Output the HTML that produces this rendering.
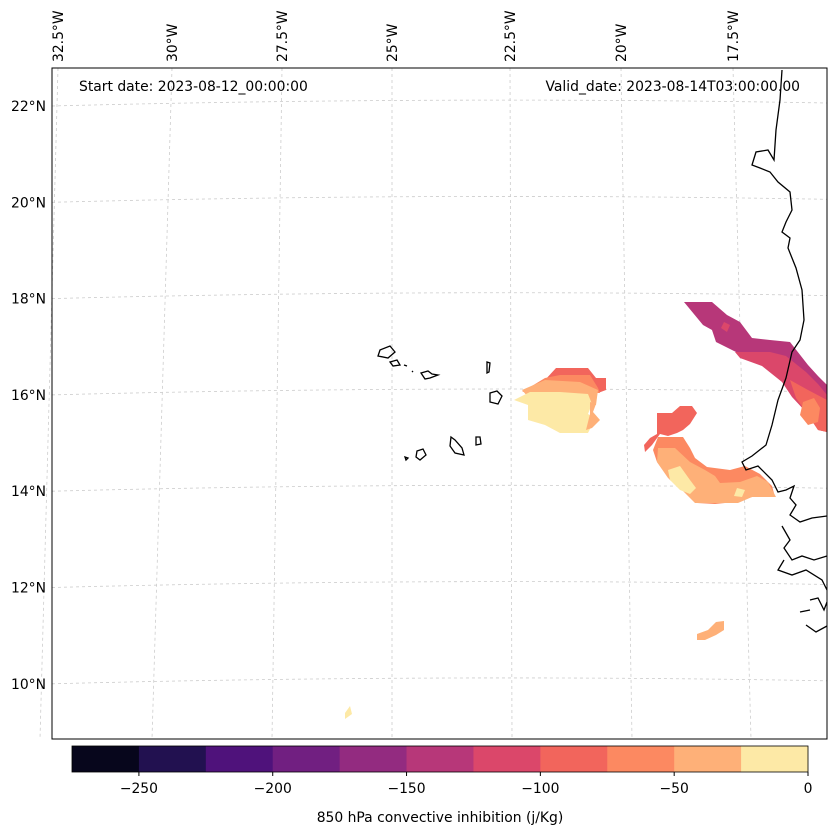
<!DOCTYPE html>
<html><head><meta charset="utf-8"><style>
body{margin:0;background:#fff;font-family:"DejaVu Sans",sans-serif}
svg text{font-family:"DejaVu Sans",sans-serif}
</style></head><body>
<svg id="chart" width="837" height="836" xmlns="http://www.w3.org/2000/svg">
<g id="grid" stroke="#ccc" stroke-width="0.8" stroke-dasharray="3,3" fill="none"></g>
<g id="fills"></g>
<g id="coast" stroke="#000" stroke-width="1.3" fill="none">
<path d="M782,70 L780,100 L776,130 L774,160 L768,150 L756,152 L752,165 L760,168 L770,172 L778,182 L790,192 L792,210 L786,222 L782,232 L790,238 L788,248 L796,268 L802,290 L804,320 L800,340 L792,352 L786,378 L778,400 L772,425 L766,445 L752,456 L742,462 L746,470 L758,466 L772,480 L778,492 L786,490 L794,486 L790,498 L796,505 L790,515 L800,522 L812,518 L827,516"/>
<path d="M782,526 L790,540 L784,548 L792,560 L802,556 L814,560 L827,556"/>
<path d="M784,560 L778,570 L792,575 L806,570 L822,580 L827,590"/>
<path d="M810,600 L818,598 L824,610 L827,602 M800,612 L810,610 M806,625 L816,632 L827,626"/>
<path d="M380,350 L390,346 L395,352 L388,358 L378,356 Z"/>
<path d="M390,362 L397,360 L400,365 L393,366 Z"/>
<path d="M404,365 L407,366 M412,371 L413,372"/>
<path d="M421,373 L428,371 L432,374 L438,375 L430,378 L425,379 Z"/>
<path d="M487,362 L490,363 L489,372 L487,373 Z"/>
<path d="M490,393 L497,391 L502,396 L498,404 L490,402 Z"/>
<path d="M451,437 L455,440 L462,448 L464,455 L455,453 L450,446 Z"/>
<path d="M476,437 L480,437 L481,444 L476,445 Z"/>
<path d="M417,451 L423,449 L426,455 L420,460 L416,457 Z"/>
<path d="M405,457 L408,458 L406,460 Z"/>
</g>
<rect x="52" y="68" width="775" height="671" fill="none" stroke="#000" stroke-width="1"/>
<g id="labels" font-size="13.9" fill="#000"></g>
<text x="79" y="91" font-size="13.9">Start date: 2023-08-12_00:00:00</text>
<text x="800" y="91" font-size="13.9" text-anchor="end">Valid_date: 2023-08-14T03:00:00.00</text>
<g id="cbar"></g>
<text x="440" y="822" font-size="13.9" text-anchor="middle">850 hPa convective inhibition (j/Kg)</text>
</svg>
<script>
const levels=[-275,-250,-225,-200,-175,-150,-125,-100,-75,-50,-25,0];
const colors=['#07061c','#221150','#4f127b','#711f81','#932b80','#b73779','#db476a','#f2655c','#fc8961','#feb078','#fde9a6'];
const cbTicks=[-250,-200,-150,-100,-50,0];
const lonLabels=['32.5°W','30°W','27.5°W','25°W','22.5°W','20°W','17.5°W'];
const lonTop=[58,172,282,392,510,621,733];
const lonBot=[40,152,272,392,512,632,751];
const latLabels=['22°N','20°N','18°N','16°N','14°N','12°N','10°N'];
const lats=[22,20,18,16,14,12,10];
const NS='http://www.w3.org/2000/svg';
function el(t,a,p){const e=document.createElementNS(NS,t);for(const k in a)e.setAttribute(k,a[k]);p.appendChild(e);return e;}
const latY=v=>106+(22-v)*48.15;
const cbX=v=>72+(v+275)*736/275;
const grid=document.getElementById('grid');
lats.forEach((v,i)=>{const y=latY(v);
 const l=el('path',{d:`M52,${y} Q440,${y-10} 827,${y-3}`},grid);
 
 
 const t=el('text',{x:46,y:y+5,'text-anchor':'end','font-size':13.9},document.getElementById('labels'));t.textContent=latLabels[i];
 
 
});
lonLabels.forEach((s,i)=>{
 const l=el('line',{x1:lonTop[i],y1:68,x2:lonBot[i],y2:739},grid);
 
 
 const x=lonTop[i]+5;
 const t=el('text',{x:x,y:62,'font-size':13.9,transform:`rotate(-90 ${x} 62)`},document.getElementById('labels'));t.textContent=s;
 
 
});
const fills=document.getElementById('fills');
const shapes=[
 [5,"684,302 712,302 727,315 740,322 752,338 770,340 790,342 808,365 818,376 827,385 827,410 808,392 790,388 770,362 740,354 716,342 712,330 703,325"],
 [6,"735,352 770,352 786,356 806,372 818,384 827,395 827,432 818,430 806,412 792,397 782,382 762,366 740,358"],
 [6,"724,322 730,325 727,332 721,328"],
 [7,"790,380 808,390 827,400 827,432 818,430 806,412 796,398"],
 [8,"803,402 814,398 820,408 818,422 808,425 800,415"],
 [7,"657,413 672,413 680,406 692,406 697,413 690,424 683,430 677,433 668,436 660,434 652,445 645,452 644,445 650,438 657,434"],
 [8,"658,437 665,437 683,437 690,448 695,458 707,467 730,470 745,466 760,474 772,486 775,497 752,497 735,502 715,504 697,503 683,488 670,480 657,462 653,450"],
 [9,"658,448 675,448 690,462 705,470 715,476 720,483 740,482 757,476 768,482 776,497 752,497 738,503 695,503 682,490 668,478 657,462"],
 [10,"668,470 680,466 690,480 696,488 690,494 680,490 670,480"],
 [10,"737,488 745,490 742,497 734,496"],
 [7,"556,368 588,368 596,378 606,378 606,390 598,393 580,392 560,390 545,380"],
 [8,"545,378 560,375 590,375 598,388 600,393 583,393 560,392 540,390 522,392"],
 [9,"522,390 545,380 580,382 598,390 596,405 560,402 528,397"],
 [10,"514,400 530,392 560,392 588,394 592,404 588,414 598,420 592,425 588,433 560,433 545,425 528,420 528,405"],
 [9,"590,402 596,404 593,412 600,420 592,428 586,430 590,414"],
 [9,"697,634 708,630 716,622 724,621 724,630 716,635 705,640 697,640"],
 [10,"345,713 350,706 352,714 345,719"]
];
shapes.forEach(s=>{const p=el('polygon',{points:s[1],fill:colors[s[0]]},fills);
 
 });
const cb=document.getElementById('cbar');
for(let i=0;i<colors.length;i++){
 const r=el('rect',{x:cbX(levels[i]),y:746,width:cbX(levels[i+1])-cbX(levels[i])+0.5,height:26,fill:colors[i]},cb);
 
 
}
el('rect',{x:72,y:746,width:736,height:26,fill:'none',stroke:'#000','stroke-width':0.8},cb);
cbTicks.forEach(v=>{const x=cbX(v);
 el('line',{x1:x,y1:772,x2:x,y2:776,stroke:'#000'},cb);
 const t=el('text',{x:x,y:793,'text-anchor':'middle','font-size':13.9},cb);t.textContent=v<0?'\u2212'+(-v):v;
 
 
});
</script>
</body></html>
